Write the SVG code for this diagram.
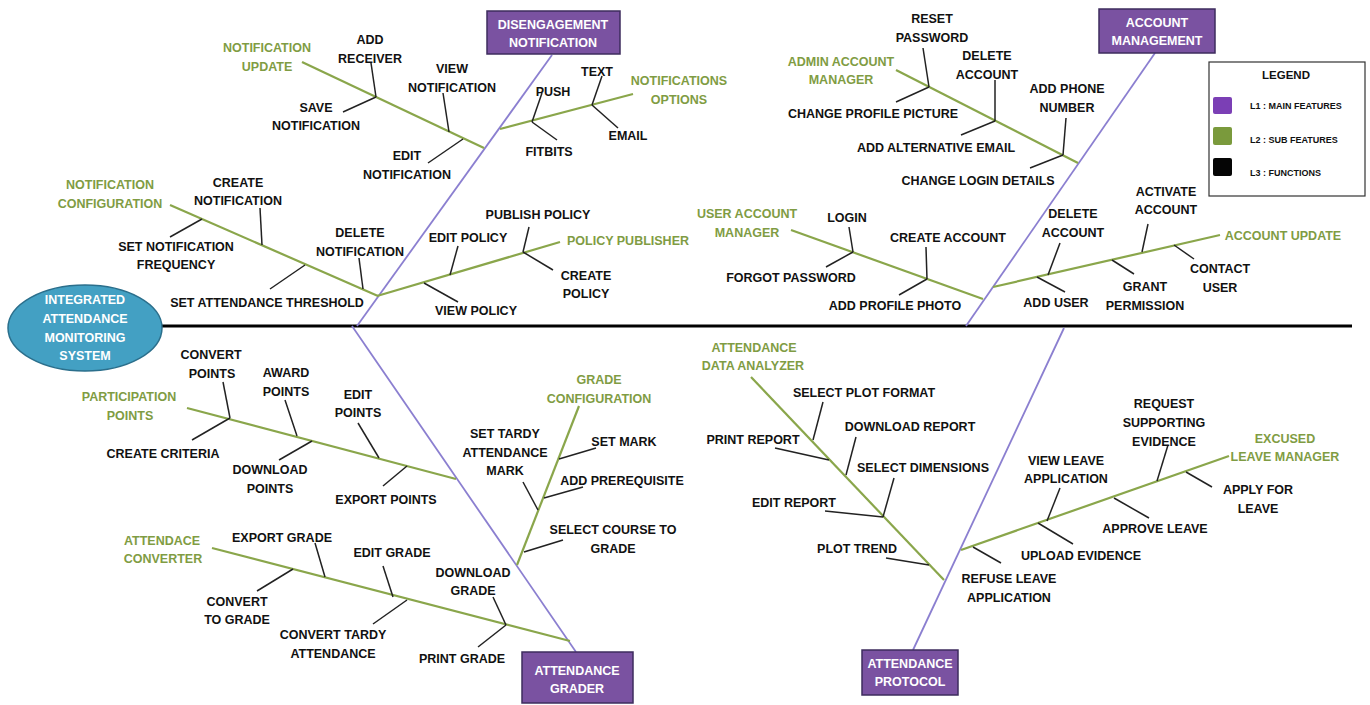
<svg xmlns="http://www.w3.org/2000/svg" width="1370" height="705" viewBox="0 0 1370 705">
<style>
text{font-family:"Liberation Sans",Arial,sans-serif;font-weight:bold;text-anchor:middle}
.t{font-size:12.5px;fill:#111}
.g{font-size:12.5px;fill:#7f9c43}
.w{font-size:12.5px;fill:#fff}
.box{fill:#7a52a1;stroke:#3e2c5e;stroke-width:1.5}
.l1{stroke:#8b7fd0;stroke-width:1.8;fill:none}
.l2{stroke:#8aa64b;stroke-width:2.2;fill:none}
.l3{stroke:#222;stroke-width:1.5;fill:none}
.lg{font-size:9px;fill:#111;text-anchor:start}
</style>
<rect width="1370" height="705" fill="#fff"/>
<g id="connectors">
<line x1="160" y1="326" x2="1352" y2="326" stroke="#000" stroke-width="3"/>
<g class="l1">
<line x1="552" y1="55" x2="357" y2="326"/>
<line x1="1155" y1="53" x2="966" y2="326"/>
<line x1="352" y1="326" x2="576" y2="652"/>
<line x1="1064" y1="328" x2="913" y2="650"/>
</g>
<g class="l2">
<line x1="302" y1="62" x2="484" y2="148"/>
<line x1="170" y1="205" x2="378" y2="296"/>
<line x1="500" y1="129" x2="633" y2="94"/>
<line x1="377" y1="296" x2="560" y2="242"/>
<line x1="896" y1="70" x2="1078" y2="163"/>
<line x1="791" y1="230" x2="983" y2="299"/>
<line x1="993" y1="287" x2="1220" y2="235"/>
<line x1="187" y1="408" x2="456" y2="479"/>
<line x1="212" y1="548" x2="570" y2="641"/>
<line x1="579" y1="406" x2="517" y2="565"/>
<line x1="751" y1="377" x2="944" y2="580"/>
<line x1="961" y1="550" x2="1229" y2="456"/>
</g>
<g class="l3">
<line x1="371" y1="63" x2="376" y2="97"/>
<line x1="343" y1="112" x2="376" y2="97"/>
<line x1="443" y1="93" x2="449" y2="132"/>
<line x1="428" y1="163" x2="463" y2="139"/>
<line x1="260" y1="208" x2="262" y2="245"/>
<line x1="170" y1="237" x2="202" y2="219"/>
<line x1="359" y1="258" x2="363" y2="289"/>
<line x1="270" y1="289" x2="305" y2="265"/>
<line x1="542" y1="93" x2="532" y2="122"/>
<line x1="532" y1="122" x2="557" y2="140"/>
<line x1="602" y1="76" x2="592" y2="105"/>
<line x1="592" y1="105" x2="618" y2="128"/>
<line x1="458" y1="246" x2="450" y2="275"/>
<line x1="424" y1="283" x2="458" y2="302"/>
<line x1="529" y1="227" x2="523" y2="252"/>
<line x1="523" y1="252" x2="553" y2="270"/>
<line x1="923" y1="48" x2="929" y2="87"/>
<line x1="896" y1="102" x2="929" y2="87"/>
<line x1="995" y1="80" x2="995" y2="121"/>
<line x1="961" y1="135" x2="995" y2="121"/>
<line x1="1066" y1="118" x2="1063" y2="155"/>
<line x1="1030" y1="168" x2="1063" y2="155"/>
<line x1="849" y1="227" x2="853" y2="252"/>
<line x1="826" y1="267" x2="853" y2="252"/>
<line x1="926" y1="247" x2="927" y2="279"/>
<line x1="899" y1="295" x2="927" y2="279"/>
<line x1="1060" y1="243" x2="1048" y2="275"/>
<line x1="1037" y1="277" x2="1065" y2="292"/>
<line x1="1148" y1="224" x2="1142" y2="252"/>
<line x1="1112" y1="260" x2="1134" y2="274"/>
<line x1="1174" y1="245" x2="1194" y2="259"/>
<line x1="223" y1="382" x2="230" y2="418"/>
<line x1="192" y1="440" x2="230" y2="418"/>
<line x1="285" y1="400" x2="297" y2="436"/>
<line x1="279" y1="460" x2="312" y2="441"/>
<line x1="358" y1="423" x2="379" y2="458"/>
<line x1="383" y1="486" x2="407" y2="466"/>
<line x1="315" y1="543" x2="325" y2="577"/>
<line x1="257" y1="591" x2="293" y2="569"/>
<line x1="383" y1="566" x2="393" y2="597"/>
<line x1="373" y1="624" x2="407" y2="600"/>
<line x1="493" y1="597" x2="506" y2="625"/>
<line x1="478" y1="647" x2="506" y2="625"/>
<line x1="596" y1="448" x2="559" y2="459"/>
<line x1="583" y1="487" x2="544" y2="498"/>
<line x1="523" y1="482" x2="538" y2="510"/>
<line x1="563" y1="540" x2="524" y2="552"/>
<line x1="823" y1="402" x2="813" y2="440"/>
<line x1="775" y1="448" x2="829" y2="460"/>
<line x1="856" y1="437" x2="846" y2="475"/>
<line x1="894" y1="478" x2="883" y2="517"/>
<line x1="825" y1="511" x2="883" y2="517"/>
<line x1="886" y1="558" x2="929" y2="565"/>
<line x1="1060" y1="488" x2="1047" y2="521"/>
<line x1="1038" y1="523" x2="1073" y2="544"/>
<line x1="1168" y1="445" x2="1157" y2="481"/>
<line x1="1114" y1="498" x2="1149" y2="518"/>
<line x1="1186" y1="472" x2="1212" y2="487"/>
<line x1="973" y1="547" x2="1001" y2="563"/>
</g>
</g>
<g id="root">
<ellipse cx="85" cy="328" rx="77" ry="43" fill="#43a0c3" stroke="#2b6f8c" stroke-width="1.5"/>
<text class="w" x="85" y="303.5">INTEGRATED</text>
<text class="w" x="85" y="322.5">ATTENDANCE</text>
<text class="w" x="85" y="341.5">MONITORING</text>
<text class="w" x="85" y="359.5">SYSTEM</text>
</g>
<g id="disengagement-notification">
<rect class="box" x="487" y="11" width="133" height="43"/>
<text class="w" x="553" y="29">DISENGAGEMENT</text>
<text class="w" x="553" y="47">NOTIFICATION</text>
</g>
<g id="account-management">
<rect class="box" x="1099" y="9" width="116" height="44"/>
<text class="w" x="1157" y="27">ACCOUNT</text>
<text class="w" x="1157" y="45">MANAGEMENT</text>
</g>
<g id="attendance-grader">
<rect class="box" x="522" y="652" width="111" height="51"/>
<text class="w" x="577" y="674.5">ATTENDANCE</text>
<text class="w" x="577" y="692.5">GRADER</text>
</g>
<g id="attendance-protocol">
<rect class="box" x="862" y="650" width="96" height="45"/>
<text class="w" x="910" y="667.5">ATTENDANCE</text>
<text class="w" x="910" y="685.5">PROTOCOL</text>
</g>
<g id="notification-update">
<text class="g" x="267" y="51.5">NOTIFICATION</text>
<text class="g" x="267" y="70.5">UPDATE</text>
</g>
<g id="add-receiver"><text class="t" x="370" y="43.5">ADD</text><text class="t" x="370" y="62.5">RECEIVER</text></g>
<g id="save-notification"><text class="t" x="316" y="111.5">SAVE</text><text class="t" x="316" y="129.5">NOTIFICATION</text></g>
<g id="view-notification"><text class="t" x="452" y="72.5">VIEW</text><text class="t" x="452" y="91.5">NOTIFICATION</text></g>
<g id="edit-notification"><text class="t" x="407" y="159.5">EDIT</text><text class="t" x="407" y="178.5">NOTIFICATION</text></g>
<g id="notification-configuration">
<text class="g" x="110" y="188.5">NOTIFICATION</text>
<text class="g" x="110" y="207.5">CONFIGURATION</text>
</g>
<g id="create-notification"><text class="t" x="238" y="186.5">CREATE</text><text class="t" x="238" y="204.5">NOTIFICATION</text></g>
<g id="set-notification-frequency"><text class="t" x="176" y="250.5">SET NOTIFICATION</text><text class="t" x="176" y="268.5">FREQUENCY</text></g>
<g id="delete-notification"><text class="t" x="360" y="236.5">DELETE</text><text class="t" x="360" y="255.5">NOTIFICATION</text></g>
<g id="set-attendance-threshold"><text class="t" x="267" y="306.5">SET ATTENDANCE THRESHOLD</text></g>
<g id="notifications-options">
<text class="g" x="679" y="84.5">NOTIFICATIONS</text>
<text class="g" x="679" y="103.5">OPTIONS</text>
</g>
<g id="push"><text class="t" x="553" y="95.5">PUSH</text></g>
<g id="fitbits"><text class="t" x="549" y="155.5">FITBITS</text></g>
<g id="text"><text class="t" x="597" y="75.5">TEXT</text></g>
<g id="email"><text class="t" x="628" y="139.5">EMAIL</text></g>
<g id="policy-publisher"><text class="g" x="628" y="244.5">POLICY PUBLISHER</text></g>
<g id="edit-policy"><text class="t" x="468" y="241.5">EDIT POLICY</text></g>
<g id="view-policy"><text class="t" x="476" y="314.5">VIEW POLICY</text></g>
<g id="publish-policy"><text class="t" x="538" y="218.5">PUBLISH POLICY</text></g>
<g id="create-policy"><text class="t" x="586" y="279.5">CREATE</text><text class="t" x="586" y="297.5">POLICY</text></g>
<g id="admin-account-manager">
<text class="g" x="841" y="65.5">ADMIN ACCOUNT</text>
<text class="g" x="841" y="83.5">MANAGER</text>
</g>
<g id="reset-password"><text class="t" x="932" y="22.5">RESET</text><text class="t" x="932" y="41.5">PASSWORD</text></g>
<g id="change-profile-picture"><text class="t" x="873" y="117.5">CHANGE PROFILE PICTURE</text></g>
<g id="delete-account-admin"><text class="t" x="987" y="59.5">DELETE</text><text class="t" x="987" y="78.5">ACCOUNT</text></g>
<g id="add-alternative-email"><text class="t" x="936" y="151.5">ADD ALTERNATIVE EMAIL</text></g>
<g id="add-phone-number"><text class="t" x="1067" y="92.5">ADD PHONE</text><text class="t" x="1067" y="111.5">NUMBER</text></g>
<g id="change-login-details"><text class="t" x="978" y="184.5">CHANGE LOGIN DETAILS</text></g>
<g id="user-account-manager">
<text class="g" x="747" y="217.5">USER ACCOUNT</text>
<text class="g" x="747" y="236.5">MANAGER</text>
</g>
<g id="login"><text class="t" x="847" y="221.5">LOGIN</text></g>
<g id="forgot-password"><text class="t" x="791" y="281.5">FORGOT PASSWORD</text></g>
<g id="create-account"><text class="t" x="948" y="241.5">CREATE ACCOUNT</text></g>
<g id="add-profile-photo"><text class="t" x="895" y="309.5">ADD PROFILE PHOTO</text></g>
<g id="account-update"><text class="g" x="1283" y="239.5">ACCOUNT UPDATE</text></g>
<g id="delete-account-user"><text class="t" x="1073" y="217.5">DELETE</text><text class="t" x="1073" y="236.5">ACCOUNT</text></g>
<g id="add-user"><text class="t" x="1056" y="306.5">ADD USER</text></g>
<g id="activate-account"><text class="t" x="1166" y="195.5">ACTIVATE</text><text class="t" x="1166" y="213.5">ACCOUNT</text></g>
<g id="grant-permission"><text class="t" x="1145" y="290.5">GRANT</text><text class="t" x="1145" y="309.5">PERMISSION</text></g>
<g id="contact-user"><text class="t" x="1220" y="272.5">CONTACT</text><text class="t" x="1220" y="291.5">USER</text></g>
<g id="legend">
<rect x="1209" y="62" width="156" height="134" fill="#fff" stroke="#333" stroke-width="1.2"/>
<text x="1286" y="79" style="font-size:11.5px;fill:#111">LEGEND</text>
<rect x="1213" y="97" width="19" height="17" rx="2" fill="#7b3fb5"/>
<rect x="1213" y="127" width="19" height="18" rx="2" fill="#7a9a3c"/>
<rect x="1213" y="158" width="19" height="18" rx="2" fill="#050505"/>
<text class="lg" x="1250" y="109">L1 : MAIN FEATURES</text>
<text class="lg" x="1250" y="143">L2 : SUB FEATURES</text>
<text class="lg" x="1250" y="176">L3 : FUNCTIONS</text>
</g>
<g id="participation-points">
<text class="g" x="129" y="400.5">PARTICIPATION</text>
<text class="g" x="130" y="419.5">POINTS</text>
</g>
<g id="convert-points"><text class="t" x="211" y="358.5">CONVERT</text><text class="t" x="212" y="377.5">POINTS</text></g>
<g id="create-criteria"><text class="t" x="163" y="457.5">CREATE CRITERIA</text></g>
<g id="award-points"><text class="t" x="286" y="376.5">AWARD</text><text class="t" x="286" y="395.5">POINTS</text></g>
<g id="download-points"><text class="t" x="270" y="473.5">DOWNLOAD</text><text class="t" x="270" y="492.5">POINTS</text></g>
<g id="edit-points"><text class="t" x="358" y="398.5">EDIT</text><text class="t" x="358" y="416.5">POINTS</text></g>
<g id="export-points"><text class="t" x="386" y="503.5">EXPORT POINTS</text></g>
<g id="attendace-converter">
<text class="g" x="162" y="544.5">ATTENDACE</text>
<text class="g" x="163" y="562.5">CONVERTER</text>
</g>
<g id="export-grade"><text class="t" x="282" y="541.5">EXPORT GRADE</text></g>
<g id="convert-to-grade"><text class="t" x="237" y="605.5">CONVERT</text><text class="t" x="237" y="623.5">TO GRADE</text></g>
<g id="edit-grade"><text class="t" x="392" y="556.5">EDIT GRADE</text></g>
<g id="convert-tardy-attendance"><text class="t" x="333" y="638.5">CONVERT TARDY</text><text class="t" x="333" y="657.5">ATTENDANCE</text></g>
<g id="download-grade"><text class="t" x="473" y="576.5">DOWNLOAD</text><text class="t" x="473" y="594.5">GRADE</text></g>
<g id="print-grade"><text class="t" x="462" y="662.5">PRINT GRADE</text></g>
<g id="grade-configuration">
<text class="g" x="599" y="383.5">GRADE</text>
<text class="g" x="599" y="402.5">CONFIGURATION</text>
</g>
<g id="set-mark"><text class="t" x="624" y="445.5">SET MARK</text></g>
<g id="add-prerequisite"><text class="t" x="622" y="484.5">ADD PREREQUISITE</text></g>
<g id="set-tardy-attendance-mark"><text class="t" x="505" y="437.5">SET TARDY</text><text class="t" x="505" y="456.5">ATTENDANCE</text><text class="t" x="505" y="474.5">MARK</text></g>
<g id="select-course-to-grade"><text class="t" x="613" y="533.5">SELECT COURSE TO</text><text class="t" x="613" y="552.5">GRADE</text></g>
<g id="attendance-data-analyzer">
<text class="g" x="754" y="351.5">ATTENDANCE</text>
<text class="g" x="753" y="369.5">DATA ANALYZER</text>
</g>
<g id="select-plot-format"><text class="t" x="864" y="396.5">SELECT PLOT FORMAT</text></g>
<g id="print-report"><text class="t" x="753" y="443.5">PRINT REPORT</text></g>
<g id="download-report"><text class="t" x="910" y="430.5">DOWNLOAD REPORT</text></g>
<g id="select-dimensions"><text class="t" x="923" y="471.5">SELECT DIMENSIONS</text></g>
<g id="edit-report"><text class="t" x="794" y="506.5">EDIT REPORT</text></g>
<g id="plot-trend"><text class="t" x="857" y="552.5">PLOT TREND</text></g>
<g id="excused-leave-manager">
<text class="g" x="1285" y="442.5">EXCUSED</text>
<text class="g" x="1285" y="460.5">LEAVE MANAGER</text>
</g>
<g id="view-leave-application"><text class="t" x="1066" y="464.5">VIEW LEAVE</text><text class="t" x="1066" y="482.5">APPLICATION</text></g>
<g id="upload-evidence"><text class="t" x="1081" y="559.5">UPLOAD EVIDENCE</text></g>
<g id="request-supporting-evidence"><text class="t" x="1164" y="407.5">REQUEST</text><text class="t" x="1164" y="426.5">SUPPORTING</text><text class="t" x="1164" y="445.5">EVIDENCE</text></g>
<g id="approve-leave"><text class="t" x="1155" y="532.5">APPROVE LEAVE</text></g>
<g id="apply-for-leave"><text class="t" x="1258" y="493.5">APPLY FOR</text><text class="t" x="1258" y="512.5">LEAVE</text></g>
<g id="refuse-leave-application"><text class="t" x="1009" y="582.5">REFUSE LEAVE</text><text class="t" x="1009" y="601.5">APPLICATION</text></g>
</svg>
